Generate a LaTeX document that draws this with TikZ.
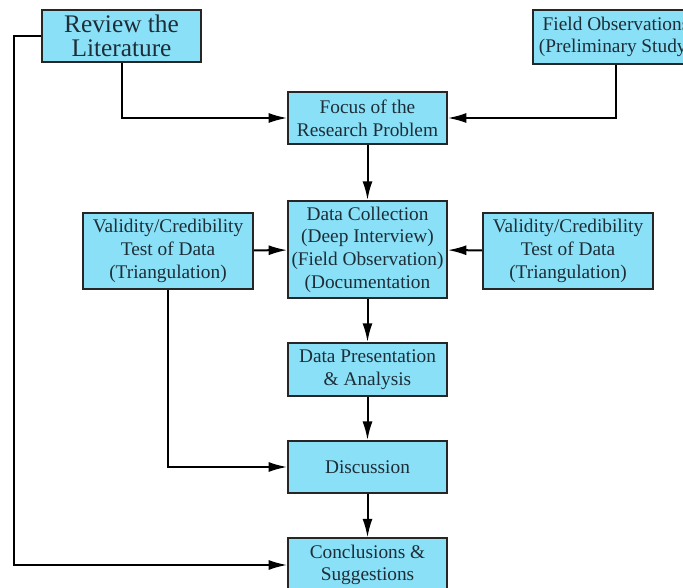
\documentclass[tikz,border=0pt]{standalone}
\usepackage{fontspec}
\setmainfont{Liberation Serif}
\usetikzlibrary{arrows.meta}
\definecolor{boxcyan}{RGB}{138,225,247}
\definecolor{boxtext}{RGB}{30,45,55}
\begin{document}
\begin{tikzpicture}[x=0.75pt, y=-0.75pt,
  box/.style={draw=black!85, line width=1.3pt, fill=boxcyan, align=center,
    inner sep=0pt, text=boxtext, font=\fontsize{14.5}{17}\selectfont},
  link/.style={line width=1.5pt, -{Latex[length=14pt,width=7.5pt]}}]
\useasboundingbox (0,0) rectangle (683,588);
\clip (0,0) rectangle (683,588);

% Top row
\node[box, minimum width=119pt, minimum height=39pt,
  font=\fontsize{19}{18}\selectfont] (review) at (121.5,36) {Review the\\Literature};
\node[box, minimum width=124pt, minimum height=40pt] (field) at (616,37)
  {Field Observations\\(Preliminary Study)};

% Main column
\node[box, minimum width=119pt, minimum height=39pt] (focus) at (367.5,118)
  {Focus of the\\Research Problem};
\node[box, minimum width=119pt, minimum height=73pt] (collect) at (367.5,249.5)
  {Data Collection\\(Deep Interview)\\(Field Observation)\\(Documentation};
\node[box, minimum width=119pt, minimum height=40pt] (present) at (367.5,369.5)
  {Data Presentation\\\& Analysis};
\node[box, minimum width=119pt, minimum height=39pt] (discuss) at (367.5,467)
  {Discussion};
\node[box, minimum width=119pt, minimum height=40pt] (concl) at (367.5,565)
  {Conclusions \&\\Suggestions};

% Side checks
\node[box, minimum width=128pt, minimum height=57pt] (validl) at (168,251)
  {Validity/Credibility\\Test of Data\\(Triangulation)};
\node[box, minimum width=128pt, minimum height=57pt] (validr) at (568,251)
  {Validity/Credibility\\Test of Data\\(Triangulation)};

% Connectors
\draw[link] (review.south) |- (focus.west);
\draw[link] (field.south) |- (focus.east);
\foreach \a/\b in {focus/collect, collect/present, present/discuss, discuss/concl}
  \draw[link] (\a) -- (\b);
\draw[link] (validl) -- (collect);
\draw[link] (validr) -- (collect);
\draw[link] (validl.south) |- (discuss.west);
\draw[link] (review.west) -- ++(-27,0) |- (concl.west);
\end{tikzpicture}
\end{document}
